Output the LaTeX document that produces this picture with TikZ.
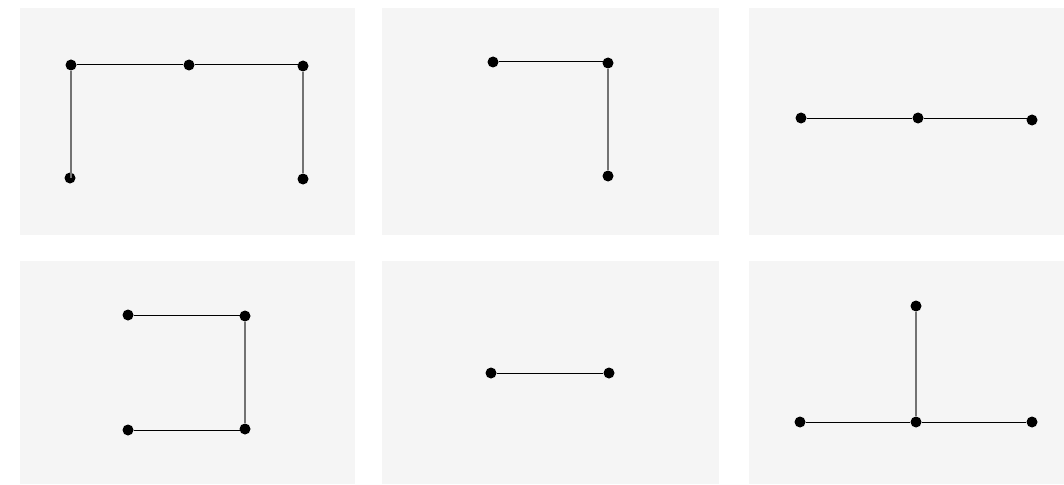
\documentclass[tikz,border=0pt]{standalone}
\usepackage{tikz}
\usetikzlibrary{positioning}
\definecolor{colPanel}{RGB}{245,245,245}

\begin{document}
\begin{tikzpicture}[
  x=1pt, y=-1pt,
  dot/.style={circle, fill=black, inner sep=0pt, minimum size=11pt},
  edge/.style={line width=1pt, black},
  vedge/.style={line width=1.5pt, black!55},
  panel/.style={fill=colPanel},
]
\useasboundingbox (0,0) rectangle (1064,484);

% Panels
\fill[panel] (20,8) rectangle (355,235);
\fill[panel] (382,8) rectangle (719,235);
\fill[panel] (749,8) rectangle (1064,235);
\fill[panel] (20,261) rectangle (355,484);
\fill[panel] (382,261) rectangle (719,484);
\fill[panel] (749,261) rectangle (1064,484);

% Panel 1
\node[dot] (a1) at (71,65) {};
\node[dot] (a2) at (189,65) {};
\node[dot] (a3) at (303,66) {};
\node[dot] (a4) at (70,178) {};
\node[dot] (a5) at (303,179) {};
\draw[vedge] (a1) -- (a1 |- a4);
\draw[vedge] (a3) -- (a5);
\draw[edge] (a1) -- (a2);
\draw[edge] (a2) -- (a2 -| a3);

% Panel 2
\node[dot] (b1) at (493,62) {};
\node[dot] (b2) at (608,63) {};
\node[dot] (b3) at (608,176) {};
\draw[vedge] (b2) -- (b3);
\draw[edge] (b1) -- (b1 -| b2);

% Panel 3
\node[dot] (c1) at (801,118) {};
\node[dot] (c2) at (918,118) {};
\node[dot] (c3) at (1032,120) {};
\draw[edge] (c1) -- (c2);
\draw[edge] (c2) -- (c2 -| c3);

% Panel 4
\node[dot] (d1) at (128,315) {};
\node[dot] (d2) at (245,316) {};
\node[dot] (d3) at (128,430) {};
\node[dot] (d4) at (245,429) {};
\draw[vedge] (d2) -- (d4);
\draw[edge] (d1) -- (d1 -| d2);
\draw[edge] (d3) -- (d3 -| d4);

% Panel 5
\node[dot] (e1) at (491,373) {};
\node[dot] (e2) at (609,373) {};
\draw[edge] (e1) -- (e2);

% Panel 6
\node[dot] (f1) at (916,306) {};
\node[dot] (f2) at (800,422) {};
\node[dot] (f3) at (916,422) {};
\node[dot] (f4) at (1032,422) {};
\draw[vedge] (f1) -- (f3);
\draw[edge] (f2) -- (f3);
\draw[edge] (f3) -- (f4);

\end{tikzpicture}
\end{document}
